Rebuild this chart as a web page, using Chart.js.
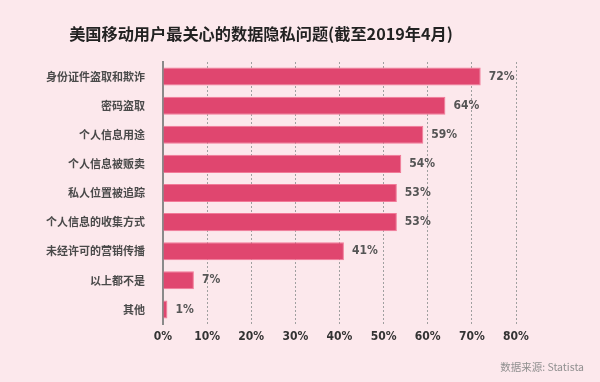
<!DOCTYPE html>
<html><head><meta charset="utf-8">
<script src="https://cdn.jsdelivr.net/npm/chart.js@4/dist/chart.umd.min.js"></script>
<style>
html,body{margin:0;padding:0;background:#fce8ec;}
#wrap{position:relative;width:600px;height:382px;background:#fce8ec;overflow:hidden;}
#title{position:absolute;left:0;width:522px;top:21px;text-align:center;font-family:"Noto Sans CJK SC",sans-serif;font-weight:700;font-size:16.2px;color:#222;line-height:24px;}
#source{position:absolute;right:16px;top:358px;font-family:"Noto Sans CJK SC","Noto Sans",sans-serif;font-size:10.5px;color:#909090;line-height:18px;}
canvas{position:absolute;left:0;top:0;}
</style></head>
<body><div id="wrap">
<canvas id="c" width="600" height="382"></canvas>
<div id="title">美国移动用户最关心的数据隐私问题(截至2019年4月)</div>
<div id="source">数据来源: Statista</div>
</div>
<script>
const categories = ["身份证件盗取和欺诈","密码盗取","个人信息用途","个人信息被贩卖","私人位置被追踪","个人信息的收集方式","未经许可的营销传播","以上都不是","其他"];
const values = [72,64,59,54,53,53,41,7,1];
const xTicks = [0,10,20,30,40,50,60,70,80];
const condensed = '"DejaVu Sans",sans-serif';

const valueLabels = {
  id:'valueLabels',
  afterDatasetsDraw(chart){
    const ctx = chart.ctx;
    const meta = chart.getDatasetMeta(0);
    ctx.save();
    ctx.font = 'bold condensed 12px ' + condensed;
    ctx.fillStyle = '#555';
    ctx.textAlign = 'left';
    ctx.textBaseline = 'middle';
    meta.data.forEach((bar,i)=>{
      ctx.fillText(values[i] + '%', bar.x + 8, bar.y);
    });
    ctx.restore();
  }
};

new Chart(document.getElementById('c'), {
  type:'bar',
  data:{labels:categories, datasets:[{data:values, backgroundColor:'#e0466f', borderColor:'#f27a98', borderWidth:1, borderSkipped:'start', categoryPercentage:1, barPercentage:0.62}]},
  options:{
    indexAxis:'y', responsive:false, animation:false, devicePixelRatio:1,
    layout:{padding:{left:0,right:84,top:62,bottom:26}},
    plugins:{legend:{display:false}, tooltip:{enabled:false}, title:{display:false}},
    scales:{
      x:{min:0,max:80,position:'bottom',
        afterBuildTicks(s){ s.ticks = xTicks.map(v=>({value:v})); },
        afterFit(s){ s.height = 32; },
        grid:{display:true, color:'#a0a0a0', lineWidth:1, drawTicks:false},
        border:{display:false, dash:[2,2]},
        ticks:{padding:6, color:'#333', font:{family:condensed, weight:'bold condensed', size:12}, callback:v=>v+'%'}
      },
      y:{
        afterFit(s){ s.width = 163; },
        grid:{display:false, drawTicks:false},
        border:{display:true, color:'#8a8a8a', width:2},
        ticks:{padding:18, color:'#4a4a4a', font:{family:'"Noto Sans CJK SC",sans-serif', weight:'bold', size:11}}
      }
    }
  },
  plugins:[valueLabels]
});
</script>
</body></html>
